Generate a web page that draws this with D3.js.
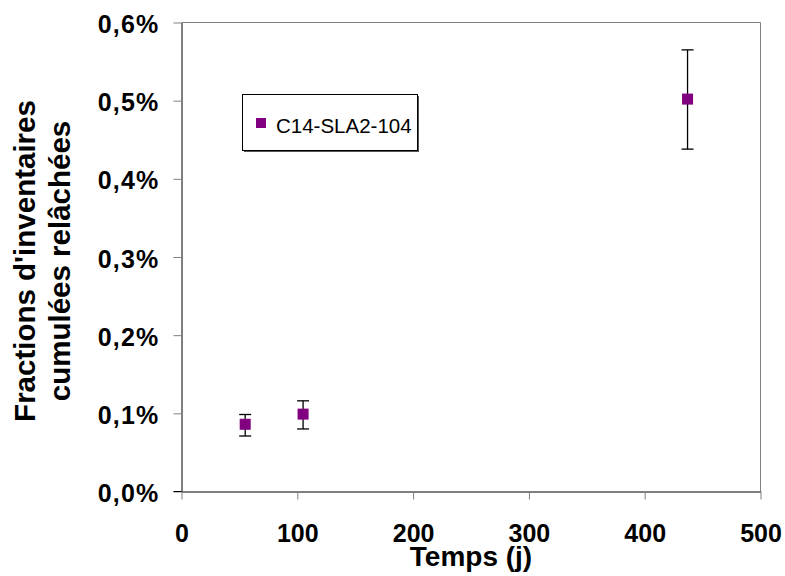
<!DOCTYPE html>
<html>
<head>
<meta charset="utf-8">
<script src="https://cdn.jsdelivr.net/npm/d3@7"></script>
<style>
  html, body { margin: 0; padding: 0; background: #fff; }
  svg { display: block; font-family: "Liberation Sans", Arial, sans-serif; }
</style>
</head>
<body>
<svg id="chart" width="785" height="576"></svg>
<script>
// ---- data ----
const seriesName = "C14-SLA2-104";
const days = [55, 105, 437];
const fractions = [0.086, 0.099, 0.502];      // % values
const errLow = [0.071, 0.080, 0.438];
const errHigh = [0.0985, 0.116, 0.565];
const xTicks = [0, 100, 200, 300, 400, 500];
const yTicks = [0, 0.1, 0.2, 0.3, 0.4, 0.5, 0.6];
const yTickLabels = ["0,0%", "0,1%", "0,2%", "0,3%", "0,4%", "0,5%", "0,6%"];
const xTitle = "Temps (j)";
const yTitleLines = ["Fractions d'inventaires", "cumulées relâchées"];

// ---- layout ----
const svg = d3.select("#chart");
const L = 181.5, R = 760.5, T = 22.5, B = 491.5;
const x = d3.scaleLinear().domain([0, 500]).range([L, R]);
const y = d3.scaleLinear().domain([0, 0.6]).range([B, T]);
const purple = "#800080";
const gray = "#808080";

// frame top/right (gray)
svg.append("line").attr("x1", L).attr("x2", R).attr("y1", T).attr("y2", T)
  .attr("stroke", gray).attr("stroke-width", 1);
svg.append("line").attr("x1", R).attr("x2", R).attr("y1", T).attr("y2", B)
  .attr("stroke", gray).attr("stroke-width", 1);

// y axis
const yAxis = svg.append("g").attr("transform", `translate(${L},0)`)
  .call(d3.axisLeft(y).tickValues(yTicks).tickSize(8).tickSizeOuter(0)
    .tickFormat((d, i) => yTickLabels[i]));
yAxis.select(".domain").attr("stroke", "#000");
yAxis.selectAll(".tick line").attr("stroke", gray);
yAxis.selectAll(".tick text")
  .attr("x", -22).attr("dy", "0.4em")
  .attr("font-size", 25).attr("font-weight", "bold").attr("fill", "#000")
  .attr("letter-spacing", "1.2px")
  .attr("font-family", "'Liberation Sans', Arial, sans-serif");

// x axis
const xAxis = svg.append("g").attr("transform", `translate(0,${B})`)
  .call(d3.axisBottom(x).tickValues(xTicks).tickSize(8).tickSizeOuter(0)
    .tickFormat(d3.format("d")));
xAxis.select(".domain").attr("stroke", "#000");
xAxis.selectAll(".tick line").attr("stroke", gray);
xAxis.selectAll(".tick text")
  .attr("y", 0).attr("dy", 50)
  .attr("font-size", 25).attr("font-weight", "bold").attr("fill", "#000")
  .attr("font-family", "'Liberation Sans', Arial, sans-serif");
// extend bottom axis line to left tick length
svg.append("line").attr("x1", L - 8).attr("x2", L).attr("y1", B).attr("y2", B)
  .attr("stroke", "#000");

// error bars
const g = svg.append("g");
const capW = 6;
days.forEach((d, i) => {
  const cx = x(d);
  g.append("line").attr("x1", cx).attr("x2", cx)
    .attr("y1", y(errLow[i])).attr("y2", y(errHigh[i])).attr("stroke", "#000").attr("stroke-width", 1.3);
  [errLow[i], errHigh[i]].forEach(v => {
    g.append("line").attr("x1", cx - capW).attr("x2", cx + capW)
      .attr("y1", y(v)).attr("y2", y(v)).attr("stroke", "#000").attr("stroke-width", 1.3);
  });
});
// markers
const ms = 11;
g.selectAll("rect.pt").data(days).join("rect").attr("class", "pt")
  .attr("x", (d) => x(d) - ms / 2)
  .attr("y", (d, i) => y(fractions[i]) - ms / 2)
  .attr("width", ms).attr("height", ms)
  .attr("fill", purple);

// legend
const leg = svg.append("g");
leg.append("rect").attr("x", 244).attr("y", 96).attr("width", 175).attr("height", 56)
  .attr("fill", "#555");
leg.append("rect").attr("x", 242.5).attr("y", 94.5).attr("width", 175).attr("height", 56)
  .attr("fill", "#fff").attr("stroke", "#000").attr("stroke-width", 1);
leg.append("rect").attr("x", 256).attr("y", 118).attr("width", 10).attr("height", 10).attr("fill", purple);
leg.append("text").attr("x", 276).attr("y", 132.5).attr("font-size", 20.5)
  .attr("fill", "#000").text(seriesName);

// axis titles
svg.append("text").attr("x", (L + R) / 2).attr("y", 566).attr("text-anchor", "middle")
  .attr("font-size", 28).attr("font-weight", "bold").text(xTitle);
const yt = svg.append("text").attr("transform", "translate(0,261) rotate(-90)")
  .attr("text-anchor", "middle").attr("font-size", 29.5).attr("font-weight", "bold");
yt.append("tspan").attr("x", 0).attr("y", 35).text(yTitleLines[0]);
yt.append("tspan").attr("x", 0).attr("y", 70).text(yTitleLines[1]);
</script>
</body>
</html>
